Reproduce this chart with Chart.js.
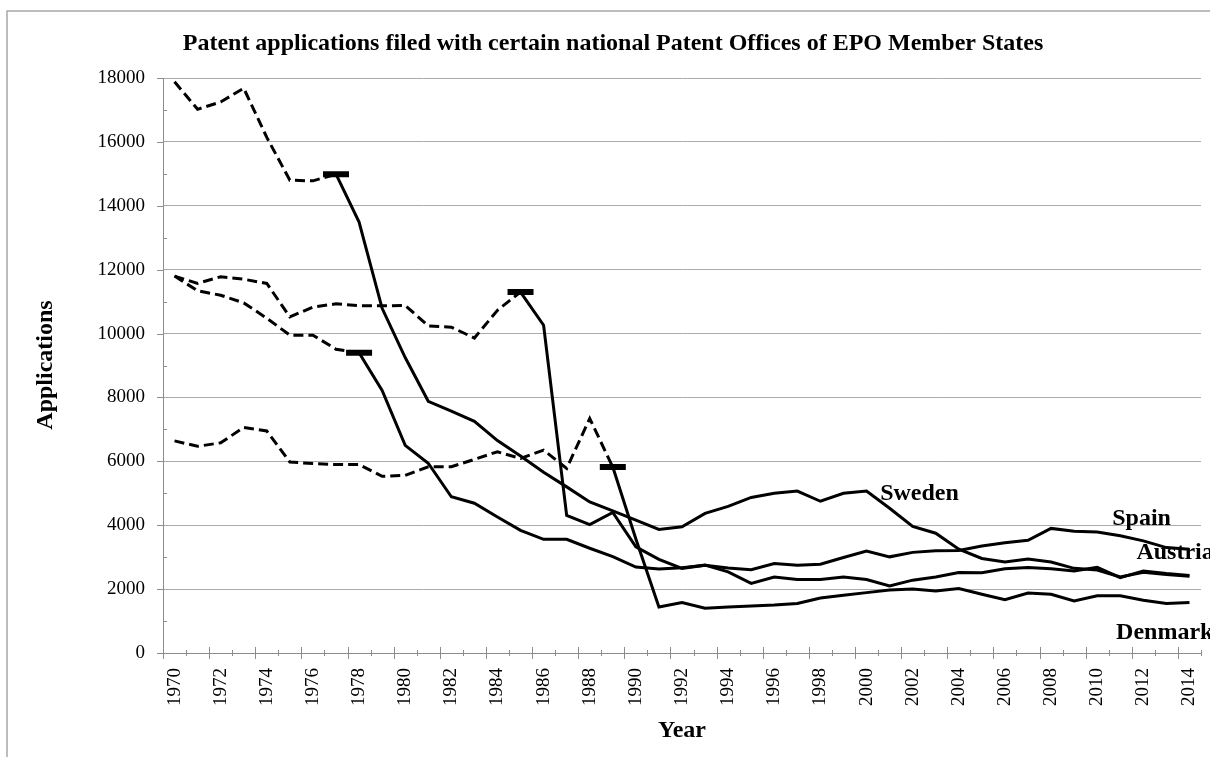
<!DOCTYPE html>
<html>
<head>
<meta charset="utf-8">
<script src="https://cdn.jsdelivr.net/npm/chart.js@4.4.1/dist/chart.umd.min.js"></script>
<style>
  html, body { margin: 0; padding: 0; background: #fff; }
  #wrap { position: relative; width: 1210px; height: 757px; overflow: hidden; }
  canvas { display: block; }
</style>
</head>
<body>
<div id="wrap"><canvas id="c" width="1210" height="757"></canvas></div>
<script>
const years = ['1970','1971','1972','1973','1974','1975','1976','1977','1978','1979',
  '1980','1981','1982','1983','1984','1985','1986','1987','1988','1989',
  '1990','1991','1992','1993','1994','1995','1996','1997','1998','1999',
  '2000','2001','2002','2003','2004','2005','2006','2007','2008','2009',
  '2010','2011','2012','2013','2014'];

const sweden = [17880,17020,17250,17680,16140,14800,14780,14990,13490,10790,
  9250,7880,7570,7250,6650,6170,5660,5200,4730,4450,
  4160,3870,3950,4370,4590,4870,5000,5070,4750,5000,
  5070,4530,3960,3750,3250,2960,2850,2940,2850,2650,
  2600,2380,2530,2460,2400];

const austria = [11800,11570,11780,11700,11570,10520,10830,10930,10870,10870,
  10880,10240,10200,9860,10730,11300,10260,4310,4020,4400,
  3320,2930,2650,2750,2540,2180,2380,2300,2300,2380,
  2300,2100,2280,2380,2520,2510,2640,2680,2640,2570,
  2680,2360,2570,2490,2430];

const spain = [11800,11340,11200,10960,10480,9950,9950,9510,9400,8220,
  6500,5940,4890,4690,4260,3840,3560,3560,3280,3020,
  2690,2630,2670,2750,2660,2610,2800,2750,2780,2990,
  3190,3010,3150,3200,3210,3350,3450,3530,3900,3810,
  3790,3670,3510,3300,3250];

const denmark = [6640,6470,6580,7060,6950,5980,5930,5900,5900,5530,
  5560,5830,5830,6060,6300,6090,6350,5780,7340,5820,
  3570,1440,1580,1400,1440,1470,1500,1550,1720,1810,
  1890,1970,2000,1940,2020,1840,1670,1880,1840,1630,
  1790,1790,1650,1550,1580];

// Year of the last dashed point (marker) for each country
const seriesNames = ['Sweden','Austria','Spain','Denmark'];
const seriesValues = [sweden, austria, spain, denmark];
const transitionYears = ['1977','1985','1978','1989'];

const yTicks = [0,2000,4000,6000,8000,10000,12000,14000,16000,18000];

// Text labels placed at (fractional category index, value)
const labelTexts = ['Sweden','Spain','Austria','Denmark'];
const labelIdx = [30.59, 40.65, 41.7, 40.82];
const labelVals = [4970, 4210, 3127, 640];

const FONT = '"Liberation Serif", "Times New Roman", serif';

const datasets = seriesNames.map((name, k) => {
  const tIdx = years.indexOf(transitionYears[k]);
  return {
    label: name,
    data: seriesValues[k],
    borderColor: '#000',
    backgroundColor: '#000',
    borderWidth: 3,
    tension: 0,
    fill: false,
    pointStyle: 'line',
    pointRadius: ctx => ctx.dataIndex === tIdx ? 13 : 0,
    pointHoverRadius: ctx => ctx.dataIndex === tIdx ? 13 : 0,
    pointBorderWidth: 6,
    pointBorderColor: '#000',
    segment: {
      borderDash: ctx => ctx.p1DataIndex <= tIdx ? [10, 5] : []
    }
  };
});

const decor = {
  id: 'decor',
  afterDraw(chart) {
    const ctx = chart.ctx;
    const xs = chart.scales.x, ys = chart.scales.y;
    const ca = chart.chartArea;
    ctx.save();
    // frame
    ctx.strokeStyle = '#a8a8a8';
    ctx.lineWidth = 1.5;
    ctx.beginPath();
    ctx.moveTo(7, 757); ctx.lineTo(7, 11); ctx.lineTo(1210, 11);
    ctx.stroke();

    // x tick marks (cross)
    ctx.strokeStyle = '#8c8c8c';
    ctx.lineWidth = 1;
    const n = years.length;
    const w = (ca.right - ca.left) / n;
    for (let i = 0; i <= n; i++) {
      const x = Math.round(ca.left + i * w) + 0.5;
      ctx.beginPath();
      if (i % 2 === 0) { ctx.moveTo(x, ca.bottom - 6); ctx.lineTo(x, ca.bottom + 6); }
      else { ctx.moveTo(x, ca.bottom - 3); ctx.lineTo(x, ca.bottom + 3); }
      ctx.stroke();
    }
    // y tick marks
    for (let v = 0; v <= 18000; v += 1000) {
      const y = Math.round(ys.getPixelForValue(v)) + 0.5;
      ctx.beginPath();
      if (v % 2000 === 0) { ctx.moveTo(ca.left - 6, y); ctx.lineTo(ca.left, y); }
      else { ctx.moveTo(ca.left, y); ctx.lineTo(ca.left + 4, y); }
      ctx.stroke();
    }

    ctx.fillStyle = '#000';
    // title
    ctx.font = 'bold 24px ' + FONT;
    ctx.textAlign = 'center';
    ctx.textBaseline = 'middle';
    ctx.fillText('Patent applications filed with certain national Patent Offices of EPO Member States', 613, 44);
    // axis titles
    ctx.font = 'bold 24px ' + FONT;
    ctx.fillText('Year', 682, 731);
    ctx.save();
    ctx.translate(46, 365);
    ctx.rotate(-Math.PI / 2);
    ctx.fillText('Applications', 0, 0);
    ctx.restore();

    // series labels
    ctx.font = 'bold 24px ' + FONT;
    ctx.textAlign = 'left';
    labelTexts.forEach((t, i) => {
      ctx.fillText(t, xs.getPixelForValue(labelIdx[i]), ys.getPixelForValue(labelVals[i]));
    });
    ctx.restore();
  }
};

new Chart(document.getElementById('c'), {
  type: 'line',
  data: { labels: years, datasets },
  options: {
    responsive: false,
    animation: false,
    events: [],
    layout: { padding: { top: 78, right: 9, left: 0, bottom: 0 } },
    plugins: { legend: { display: false }, title: { display: false }, tooltip: { enabled: false } },
    scales: {
      x: {
        type: 'category',
        offset: true,
        grid: { display: false, drawTicks: false },
        border: { display: true, color: '#8c8c8c', width: 1 },
        ticks: {
          autoSkip: false,
          maxRotation: 90,
          minRotation: 90,
          padding: 15,
          color: '#000',
          font: { family: FONT, size: 19 },
          callback: function (v, i) { return i % 2 === 0 ? years[i] : ''; }
        },
        afterFit: s => { s.height = 104; s.paddingLeft = 0; s.paddingRight = 0; }
      },
      y: {
        min: 0, max: 18000,
        afterBuildTicks: s => { s.ticks = yTicks.map(v => ({ value: v })); },
        grid: { color: '#ababab', lineWidth: 1, drawTicks: false },
        border: { display: true, color: '#8c8c8c', width: 1 },
        ticks: {
          padding: 18,
          color: '#000',
          font: { family: FONT, size: 19 },
          callback: v => String(v)
        },
        afterFit: s => { s.width = 163; }
      }
    }
  },
  plugins: [decor]
});
</script>
</body>
</html>
